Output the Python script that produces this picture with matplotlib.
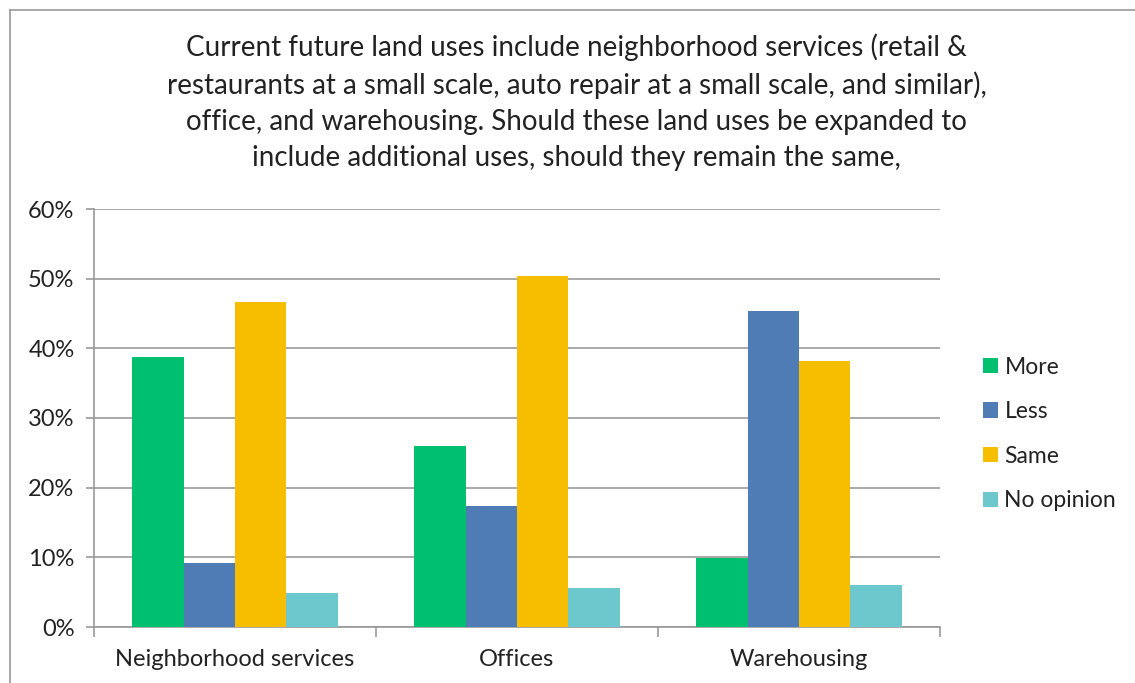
import matplotlib.pyplot as plt
import numpy as np
from matplotlib.lines import Line2D
from matplotlib.patches import Patch

plt.rcParams['font.family'] = ['Lato', 'DejaVu Sans']

categories = ['Neighborhood services', 'Offices', 'Warehousing']
series = ['More', 'Less', 'Same', 'No opinion']
more = [38.7, 26.0, 9.9]
less = [9.2, 17.4, 45.3]
same = [46.6, 50.4, 38.2]
no_opinion = [4.9, 5.6, 6.0]
colors = ['#00BF6F', '#4F7CB5', '#F7BE00', '#6CC8CC']

title = ("Current future land uses include neighborhood services (retail &\n"
         "restaurants at a small scale, auto repair at a small scale, and similar),\n"
         "office, and warehousing. Should these land uses be expanded to\n"
         "include additional uses, should they remain the same,")

fig = plt.figure(figsize=(11.35, 6.83), dpi=100)
W, H = 1135, 683
ax = fig.add_axes([94 / W, 1 - 627 / H, (940 - 94) / W, (627 - 209) / H])

x = np.arange(len(categories))
bw = 0.182
values = [more, less, same, no_opinion]
for i, (vals, col, name) in enumerate(zip(values, colors, series)):
    ax.bar(x + (i - 1.5) * bw, vals, width=bw, color=col, label=name, zorder=3)

ax.set_xlim(-0.5, 2.5)
ax.set_ylim(0, 60)
ax.set_yticks(range(0, 61, 10))
ax.set_yticklabels([f'{v}%' for v in range(0, 61, 10)], fontsize=17, color='#222222')
ax.set_xticks(x)
ax.set_xticklabels(categories, fontsize=17, color='#222222')
ax.set_xticks([-0.5, 0.5, 1.5, 2.5], minor=True)
ax.tick_params(axis='x', which='major', length=0, pad=16)
ax.tick_params(axis='x', which='minor', length=7, color='#999999', width=1.2)
ax.tick_params(axis='y', length=6, color='#999999', width=1.2, pad=8)
ax.grid(axis='y', color='#999999', linewidth=1.2, zorder=0)
for s in ['top', 'right']:
    ax.spines[s].set_visible(False)
ax.spines['left'].set_color('#999999')
ax.spines['bottom'].set_color('#999999')
ax.spines['left'].set_linewidth(1.2)
ax.spines['bottom'].set_linewidth(1.2)

handles = [Patch(facecolor=c, label=n) for c, n in zip(colors, series)]
fig.legend(handles=handles, loc='center left', bbox_to_anchor=(962 / W, 1 - 434 / H),
           frameon=False, fontsize=16.5, handlelength=0.65, handleheight=0.65,
           handletextpad=0.3, labelspacing=1.03, labelcolor='#222222')

fig.text(0.508, 1 - 33 / H, title, ha='center', va='top', fontsize=20,
         color='#222222', linespacing=1.47)

# outer chart border
fig.add_artist(Line2D([10 / W, 1], [1 - 10 / H, 1 - 10 / H], color='#999999', lw=1.2))
fig.add_artist(Line2D([10 / W, 10 / W], [0, 1 - 10 / H], color='#999999', lw=1.2))

fig.savefig('out.png', dpi=100)
